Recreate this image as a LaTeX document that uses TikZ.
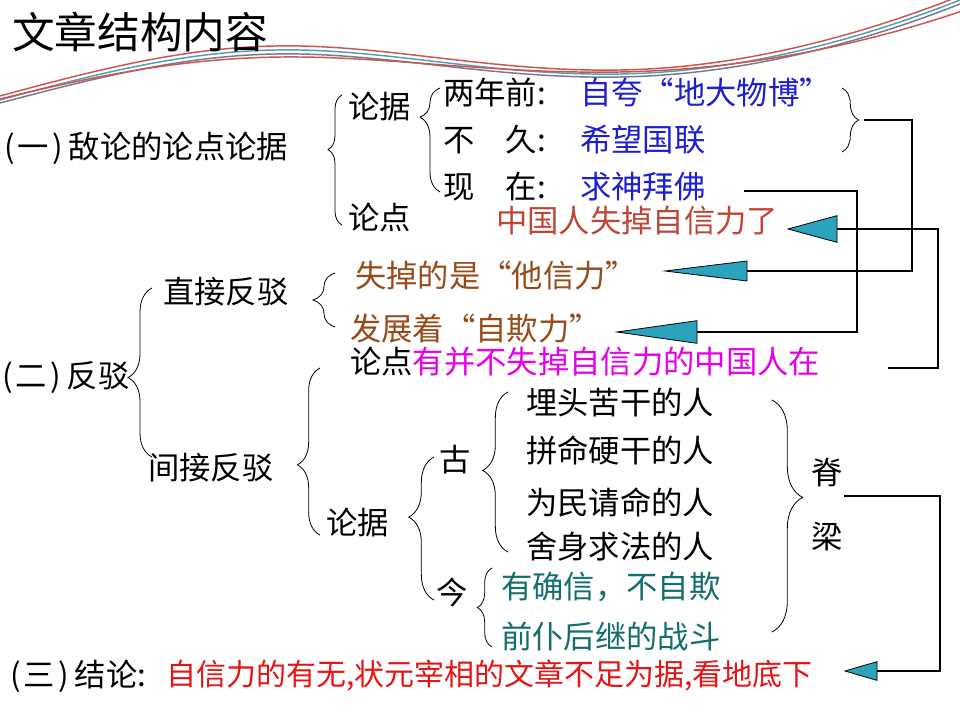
\documentclass[tikz,border=0pt]{standalone}
\usepackage{fontspec}
\setmainfont{Noto Sans CJK SC}
\usetikzlibrary{decorations.pathreplacing}
\definecolor{cblue}{RGB}{30,30,210}
\definecolor{cbrick}{RGB}{190,70,55}
\definecolor{cbrown}{RGB}{150,75,25}
\definecolor{cmag}{RGB}{230,0,230}
\definecolor{cteal}{RGB}{20,110,110}
\definecolor{cred}{RGB}{230,20,20}
\definecolor{ctri}{RGB}{43,163,189}
\definecolor{wred}{RGB}{205,85,80}
\definecolor{wteal}{RGB}{80,160,185}
\definecolor{wgray}{RGB}{120,120,140}
\newcommand{\secno}[1]{(\hspace{2pt}#1\hspace{3pt})\hspace{4pt}}
\begin{document}
\begin{tikzpicture}[x=0.75pt,y=-0.75pt,
  txt/.style={inner sep=0pt, anchor=west, font=\fontsize{23.5}{28}\selectfont},
  br/.style={decorate, line width=0.6pt},
  conn/.style={line width=1pt},
  tri/.style={fill=ctri, draw=black, line width=0.6pt, line join=miter},
  wave/.style={line width=1.1pt}]
\useasboundingbox (0,0) rectangle (960,720);
\fill[white] (0,0) rectangle (960,720);
% decorative waves
\draw[wave,wred] (0,96) .. controls (110,66) and (200,44) .. (300,46) .. controls (400,48) and (500,72) .. (620,70) .. controls (740,68) and (860,36) .. (965,-6);
\draw[wave,wteal] (0,100) .. controls (110,70) and (200,48) .. (300,50) .. controls (400,52) and (500,76) .. (620,74) .. controls (740,72) and (860,40) .. (965,-2);
\draw[wave,wgray] (0,103) .. controls (110,74) and (200,52) .. (300,54) .. controls (400,56) and (500,79) .. (620,77) .. controls (740,75) and (860,44) .. (965,2);
\draw[wave,wred] (0,99) .. controls (110,72) and (200,56) .. (300,57) .. controls (400,58) and (500,74) .. (620,72) .. controls (740,70) and (860,46) .. (965,10);
% title
\node[txt, font=\fontsize{32}{38}\selectfont] (title) at (12,32) {文章结构内容};
% section one
\node[txt] (s1) at (4,148) {\secno{一}敌论的论点论据};
\node[txt] (lj1) at (348,107) {论据};
\node[txt] (ld1) at (348,218) {论点};
\node[txt] (t1) at (443,93) {两年前:};
\node[txt] (t2) at (443,140) {不　久:};
\node[txt] (t3) at (443,187) {现　在:};
\node[txt, text=cblue] (b1) at (580,93) {自夸“地大物博”};
\node[txt, text=cblue] (b2) at (580,140) {希望国联};
\node[txt, text=cblue] (b3) at (580,187) {求神拜佛};
\node[txt, text=cbrick] (claim) at (496,221) {中国人失掉自信力了};
% section two
\node[txt] (s2) at (2,378) {\secno{二}反驳};
\node[txt] (zj) at (163,292) {直接反驳};
\node[txt] (jj) at (148,468) {间接反驳};
\node[txt, text=cbrown] (ta) at (355,276) {失掉的是“他信力”};
\node[txt, text=cbrown] (zq) at (350,329) {发展着“自欺力”};
\node[txt] (ld2) at (350,362) {论点\textcolor{cmag}{有并不失掉自信力的中国人在}};
\node[txt] (lj2) at (326,523) {论据};
\node[txt] (gu) at (439,460) {古};
\node[txt] (jin) at (436,593) {今};
\node[txt] (g1) at (526,403) {埋头苦干的人};
\node[txt] (g2) at (526,450) {拼命硬干的人};
\node[txt] (g3) at (526,502) {为民请命的人};
\node[txt] (g4) at (526,547) {舍身求法的人};
\node[txt, text=cteal] (j1) at (501,587) {有确信，不自欺};
\node[txt, text=cteal] (j2) at (501,637) {前仆后继的战斗};
\node[txt] (ji) at (811,473) {脊};
\node[txt] (liang) at (811,537) {梁};
% section three
\node[txt] (s3) at (10,676) {\secno{三}结论:};
\node[txt, text=cred, font=\fontsize{22.5}{27}\selectfont] (concl) at (166,676) {自信力的有无,状元宰相的文章不足为据,看地底下};
% braces
\draw[br, decoration={brace, amplitude=10.5pt, aspect=0.58}] (342,225) -- (342,95);
\draw[br, decoration={brace, amplitude=15pt, aspect=0.72}] (440,192) -- (440,88);
\draw[br, decoration={brace, amplitude=12.5pt, aspect=0.5}] (842,88) -- (842,152);
\draw[br, decoration={brace, amplitude=18pt, aspect=0.47}] (152,457) -- (152,288);
\draw[br, decoration={brace, amplitude=16.5pt, aspect=0.5}] (335,327) -- (335,273);
\draw[br, decoration={brace, amplitude=17pt, aspect=0.42}] (320,535) -- (320,368);
\draw[br, decoration={brace, amplitude=19pt, aspect=0.58}] (434,600) -- (434,457);
\draw[br, decoration={brace, amplitude=19pt, aspect=0.51}] (508,552) -- (508,392);
\draw[br, decoration={brace, amplitude=11pt, aspect=0.5}] (492,647) -- (492,568);
\draw[br, decoration={brace, amplitude=23pt, aspect=0.42}] (772,400) -- (772,632);
% arrowheads
\coordinate (a1tip) at (788,229); \coordinate (a1base) at (837,229);
\coordinate (a2tip) at (665,271); \coordinate (a2base) at (747,271);
\coordinate (a3tip) at (617,332); \coordinate (a3base) at (697,332);
\coordinate (a4tip) at (845,671); \coordinate (a4base) at (877,671);
% connectors
\coordinate (c1s) at (864,120); \coordinate (c1v) at (912,120);
\coordinate (c2s) at (744,191); \coordinate (c2v) at (857,191);
\coordinate (c3s) at (888,368); \coordinate (c3v) at (938,368);
\coordinate (c4s) at (844,496); \coordinate (c4v) at (940,496);
\draw[conn] (c1s) -- (c1v) |- (a2base);
\draw[conn] (c2s) -- (c2v) |- (a3base);
\draw[conn] (c3s) -- (c3v) |- (a1base);
\draw[conn] (c4s) -- (c4v) |- (a4base);
\filldraw[tri] (a1tip) -- ([yshift=10pt]a1base) -- ([yshift=-10pt]a1base) -- cycle;
\filldraw[tri] (a2tip) -- ([yshift=7.5pt]a2base) -- ([yshift=-7.5pt]a2base) -- cycle;
\filldraw[tri] (a3tip) -- ([yshift=8.5pt]a3base) -- ([yshift=-8.5pt]a3base) -- cycle;
\filldraw[tri] (a4tip) -- ([yshift=7pt]a4base) -- ([yshift=-7pt]a4base) -- cycle;
\end{tikzpicture}
\end{document}
